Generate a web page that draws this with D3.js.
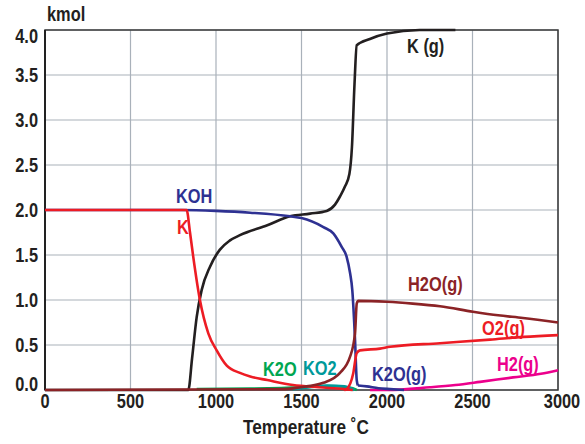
<!DOCTYPE html>
<html>
<head>
<meta charset="utf-8">
<script src="https://cdn.jsdelivr.net/npm/d3@7"></script>
<style>
  body { margin: 0; background: #fff; }
  text { font-family: "Liberation Sans", Arial, sans-serif; font-weight: bold; }
</style>
</head>
<body>
<div id="chart"></div>
<script>
// equilibrium amounts (kmol) vs temperature (°C)
const xTicks = [0, 500, 1000, 1500, 2000, 2500, 3000];
const yTicks = [0, 0.5, 1.0, 1.5, 2.0, 2.5, 3.0, 3.5, 4.0];

const kohT = [0, 800, 1000, 1200, 1433, 1500, 1628, 1686, 1735, 1764, 1784, 1797, 1813, 1823, 1830];
const kohV = [2.0, 2.0, 1.99, 1.97, 1.93, 1.91, 1.81, 1.74, 1.59, 1.48, 1.30, 1.11, 0.56, 0.11, 0.05];

const kT = [0, 828, 848, 867, 906, 955, 1004, 1063, 1140, 1200, 1300, 1450, 1600, 1750, 1800];
const kV = [2.0, 2.0, 1.75, 1.48, 1.0, 0.63, 0.44, 0.27, 0.19, 0.15, 0.11, 0.055, 0.03, 0.01, 0.0];

const kgT = [0, 838, 860, 887, 916, 965, 1023, 1080, 1140, 1300, 1433, 1550, 1647, 1696, 1725, 1754, 1780, 1795, 1810, 1823, 1900, 2000, 2190, 2400];
const kgV = [0, 0, 0.35, 0.81, 1.11, 1.37, 1.56, 1.66, 1.72, 1.83, 1.93, 1.96, 1.99, 2.06, 2.15, 2.26, 2.4, 2.7, 3.4, 3.83, 3.9, 3.96, 4.0, 4.0];

const h2oT = [0, 1400, 1530, 1628, 1725, 1784, 1813, 1823, 1832, 2000, 2150, 2310, 2503, 2650, 2795, 3000];
const h2oV = [0, 0.01, 0.04, 0.08, 0.19, 0.37, 0.63, 0.96, 0.99, 0.98, 0.96, 0.93, 0.87, 0.83, 0.80, 0.75];

const o2T = [1750, 1764, 1803, 1823, 1842, 1959, 2018, 2310, 2602, 2800, 3000];
const o2V = [0, 0.01, 0.19, 0.41, 0.44, 0.46, 0.48, 0.52, 0.56, 0.59, 0.61];

const h2T = [1900, 2000, 2251, 2400, 2544, 2737, 2900, 3000];
const h2V = [0, 0, 0.03, 0.055, 0.09, 0.14, 0.18, 0.22];

const k2oT = [887, 1200, 1500, 1650, 1720, 1800, 1823];
const k2oV = [0.01, 0.015, 0.03, 0.045, 0.04, 0.02, 0];

const ko2T = [1450, 1550, 1650, 1750, 1810];
const ko2V = [0.01, 0.03, 0.05, 0.04, 0];

const k2ogT = [1830, 1881, 1950, 2018, 2100];
const k2ogV = [0.05, 0.04, 0.02, 0.01, 0];

// label anchors in data units (T, kmol)
const labels = [
  { text: 'KOH', T: 766, v: 2.08, color: '#2e3192' },
  { text: 'K', T: 772, v: 1.73, color: '#ed1c24' },
  { text: 'K (g)', T: 2117, v: 3.74, color: '#231f20' },
  { text: 'H2O(g)', T: 2123, v: 1.10, color: '#8b2326' },
  { text: 'O2(g)', T: 2556, v: 0.61, color: '#ed1c24' },
  { text: 'H2(g)', T: 2643, v: 0.21, color: '#ec008c' },
  { text: 'K2O(g)', T: 1912, v: 0.10, color: '#2e3192' },
  { text: 'K2O', T: 1275, v: 0.155, color: '#00a651' },
  { text: 'KO2', T: 1509, v: 0.167, color: '#00999a' }
];

const series = [
  { T: k2oT, V: k2oV, color: '#00a651' },
  { T: ko2T, V: ko2V, color: '#00999a' },
  { T: kgT, V: kgV, color: '#231f20' },
  { T: kohT, V: kohV, color: '#2e3192' },
  { T: kT, V: kV, color: '#ed1c24' },
  { T: o2T, V: o2V, color: '#ed1c24' },
  { T: h2T, V: h2V, color: '#ec008c' },
  { T: k2ogT, V: k2ogV, color: '#2e3192' },
  { T: h2oT, V: h2oV, color: '#8b2326' }
];

const width = 585, height = 444;
const margin = { top: 30, right: 27, bottom: 54, left: 45 };
const squeeze = 0.82; // the original uses a narrow bold face

const x = d3.scaleLinear().domain([0, 3000]).range([margin.left, width - margin.right]);
const y = d3.scaleLinear().domain([0, 4]).range([height - margin.bottom, margin.top]);

const svg = d3.select('#chart')
  .append('svg')
  .attr('width', width)
  .attr('height', height);

const narrow = (px, py) => `translate(${px},${py}) scale(${squeeze},1)`;

// grid
svg.append('g')
  .selectAll('line')
  .data(xTicks)
  .join('line')
  .attr('x1', d => x(d)).attr('x2', d => x(d))
  .attr('y1', y(0)).attr('y2', y(4))
  .attr('stroke', '#a9b1ba')
  .attr('stroke-width', 1.2);

svg.append('g')
  .selectAll('line')
  .data(yTicks)
  .join('line')
  .attr('x1', x(0)).attr('x2', x(3000))
  .attr('y1', d => y(d)).attr('y2', d => y(d))
  .attr('stroke', '#a9b1ba')
  .attr('stroke-width', 1.2);

// frame
svg.append('rect')
  .attr('x', x(0)).attr('y', y(4))
  .attr('width', x(3000) - x(0))
  .attr('height', y(0) - y(4))
  .attr('fill', 'none')
  .attr('stroke', '#3a3a3a')
  .attr('stroke-width', 1.5);

svg.append('line')
  .attr('x1', x(0)).attr('x2', x(0))
  .attr('y1', y(0)).attr('y2', y(4))
  .attr('stroke', '#222')
  .attr('stroke-width', 2);

// tick labels
svg.append('g')
  .selectAll('text')
  .data(yTicks)
  .join('text')
  .attr('transform', d => narrow(38, Math.min(Math.max(y(d), 36), 384) + 7))
  .attr('text-anchor', 'end')
  .attr('font-size', 20)
  .attr('fill', '#231f20')
  .text(d => d.toFixed(1));

svg.append('g')
  .selectAll('text')
  .data(xTicks)
  .join('text')
  .attr('transform', d => narrow(x(d) + (d === 3000 ? 4 : 0), 408))
  .attr('text-anchor', 'middle')
  .attr('font-size', 20)
  .attr('fill', '#231f20')
  .text(d => d);

svg.append('text')
  .attr('transform', narrow(47, 21))
  .attr('font-size', 20)
  .attr('fill', '#231f20')
  .text('kmol');

svg.append('text')
  .attr('transform', narrow(306, 434))
  .attr('text-anchor', 'middle')
  .attr('font-size', 21)
  .attr('fill', '#231f20')
  .text('Temperature ˚C');

// curves
const line = d3.line()
  .x(d => x(d[0]))
  .y(d => y(d[1]))
  .curve(d3.curveMonotoneX);

svg.append('g')
  .selectAll('path')
  .data(series)
  .join('path')
  .attr('d', s => line(s.T.map((t, i) => [t, s.V[i]])))
  .attr('fill', 'none')
  .attr('stroke', s => s.color)
  .attr('stroke-width', 2.6)
  .attr('stroke-linejoin', 'round');

// series labels
svg.append('g')
  .selectAll('text')
  .data(labels)
  .join('text')
  .attr('transform', d => narrow(x(d.T), y(d.v)))
  .attr('font-size', 20)
  .attr('fill', d => d.color)
  .text(d => d.text);
</script>
</body>
</html>
